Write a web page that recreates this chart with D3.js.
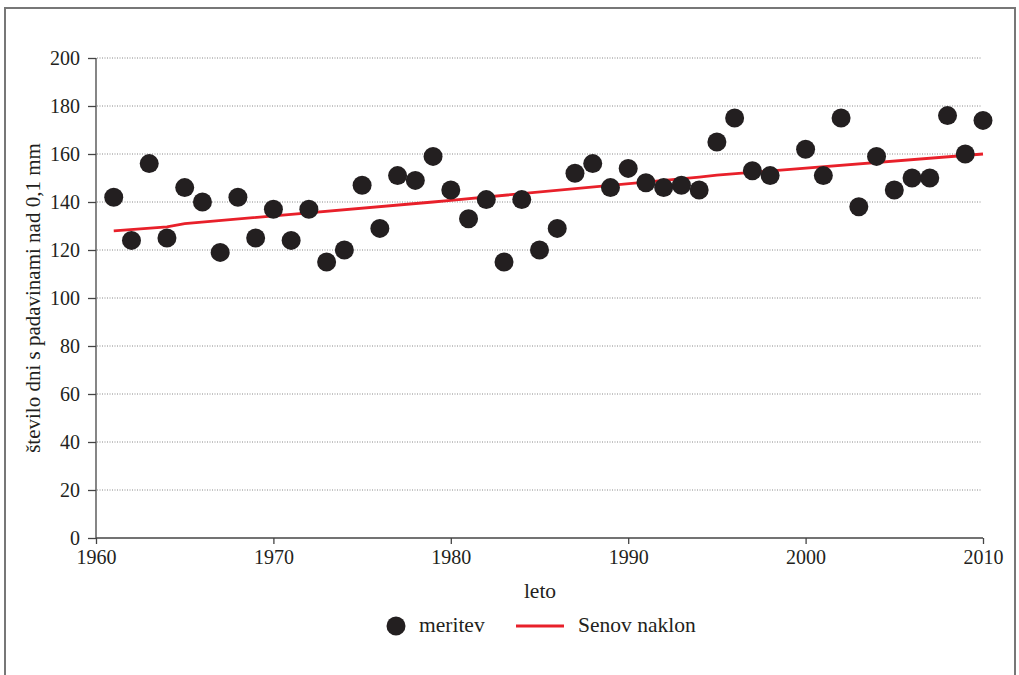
<!DOCTYPE html>
<html><head><meta charset="utf-8">
<script src="https://cdn.jsdelivr.net/npm/d3@7"></script>
<style>body{margin:0;background:#fff}svg{display:block}text{font-family:"Liberation Serif","DejaVu Serif",serif;fill:#231f20}</style>
</head><body>
<script>
const years = [1961,1962,1963,1964,1965,1966,1967,1968,1969,1970,1971,1972,1973,1974,1975,1976,1977,1978,1979,1980,1981,1982,1983,1984,1985,1986,1987,1988,1989,1990,1991,1992,1993,1994,1995,1996,1997,1998,2000,2001,2002,2003,2004,2005,2006,2007,2008,2009,2010];
const measured = [142,124,156,125,146,140,119,142,125,137,124,137,115,120,147,129,151,149,159,145,133,141,115,141,120,129,152,156,146,154,148,146,147,145,165,175,153,151,162,151,175,138,159,145,150,150,176,160,174];
const trendYears = [1961,1964,1965,1979,1980,1994,1995,2010];
const trendValues = [128,129.6,131,140,140.7,150.4,151.2,160];
const yTicks = [0,20,40,60,80,100,120,140,160,180,200];
const xTicks = [1960,1970,1980,1990,2000,2010];

const W=1019,H=675;
const svg=d3.select("body").append("svg").attr("width",W).attr("height",H);
// frame
svg.append("path").attr("d",`M5,${H+2}V8H1015V${H+2}`).attr("fill","none").attr("stroke","#777").attr("stroke-width",2);

const x=d3.scaleLinear().domain([1960,2010]).range([96,983]);
const y=d3.scaleLinear().domain([0,200]).range([538,58]);

// grid
svg.append("g").selectAll("line").data(yTicks.filter(d=>d>0)).join("line")
  .attr("x1",97).attr("x2",981).attr("y1",d=>y(d)).attr("y2",d=>y(d))
  .attr("stroke","#888").attr("stroke-width",1).attr("stroke-dasharray","1,1.5");

const ya=svg.append("g").attr("transform","translate(96,0)")
  .call(d3.axisLeft(y).tickValues(yTicks).tickSize(8).tickPadding(8));
const xa=svg.append("g").attr("transform","translate(0,538)")
  .call(d3.axisBottom(x).tickValues(xTicks).tickFormat(d3.format("d")).tickSize(6).tickPadding(6));
[ya,xa].forEach(a=>{a.selectAll("path,line").attr("stroke","#444").attr("stroke-width",1.3);
  a.selectAll("text").style("font-size","20px").attr("fill","#231f20").style("font-family",'"Liberation Serif",serif');});
ya.select(".domain").attr("d","M0,538V58");
xa.select(".domain").attr("d","M96,0H983");

// trend line
svg.append("path").datum(trendYears.map((t,i)=>[t,trendValues[i]]))
  .attr("d",d3.line().x(d=>x(d[0])).y(d=>y(d[1])))
  .attr("fill","none").attr("stroke","#e8202a").attr("stroke-width",2.8);

// points
svg.append("g").selectAll("circle").data(years.map((t,i)=>[t,measured[i]])).join("circle")
  .attr("cx",d=>x(d[0])).attr("cy",d=>y(d[1])).attr("r",9.5).attr("fill","#231f20");

// labels
svg.append("text").attr("x",540).attr("y",598).attr("text-anchor","middle").style("font-size","21.5px").text("leto");
svg.append("text").attr("transform","translate(40,298) rotate(-90)").attr("text-anchor","middle").style("font-size","21px").text("število dni s padavinami nad 0,1 mm");

// legend
svg.append("circle").attr("cx",396).attr("cy",626).attr("r",9.5).attr("fill","#231f20");
svg.append("text").attr("x",419).attr("y",632).style("font-size","21.5px").text("meritev");
svg.append("line").attr("x1",516).attr("x2",564).attr("y1",626).attr("y2",626).attr("stroke","#e8202a").attr("stroke-width",2.8);
svg.append("text").attr("x",578).attr("y",632).style("font-size","21.5px").text("Senov naklon");
</script>
</body></html>
